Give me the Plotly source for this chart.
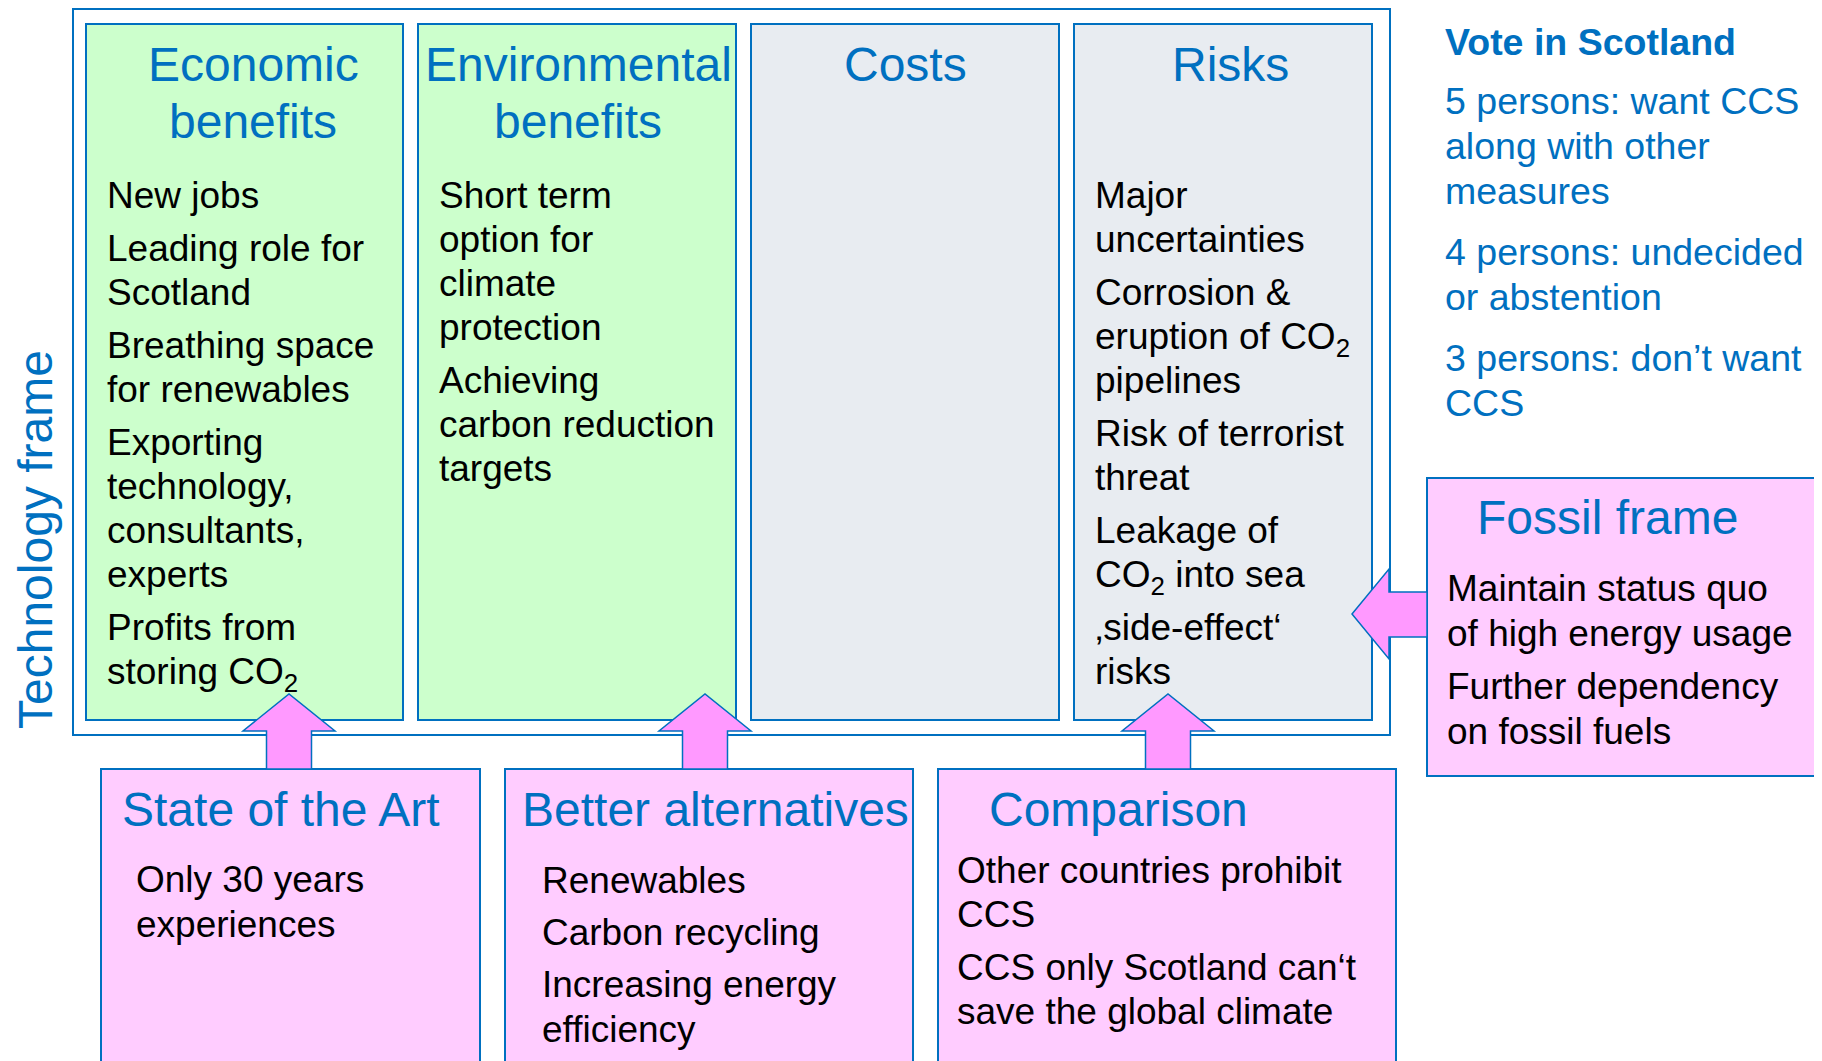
import plotly.graph_objects as go

# canvas is the browser window, data coords are page pixels (y grows downward)
W, H = 1822, 1061
OFF = 8  # default body margin of the html page
BLUE = '#0070C0'
GREEN = '#CCFFCC'
GREY = '#E8ECF1'
PINK = '#FFCCFF'
ARROW = '#FF99FF'
FONT = 'Liberation Sans, Arial, sans-serif'

# ---- text content ----
column_titles = [['Economic', 'benefits'], ['Environmental', 'benefits'], ['Costs'], ['Risks']]
column_items = [
    [['New jobs'], ['Leading role for', 'Scotland'], ['Breathing space', 'for renewables'],
     ['Exporting', 'technology,', 'consultants,', 'experts'], ['Profits from', 'storing CO<sub>2</sub>']],
    [['Short term', 'option for', 'climate', 'protection'], ['Achieving', 'carbon reduction', 'targets']],
    [],
    [['Major', 'uncertainties'], ['Corrosion &', 'eruption of CO<sub>2</sub>', 'pipelines'],
     ['Risk of terrorist', 'threat'], ['Leakage of', 'CO<sub>2</sub> into sea'], ['\u201aside-effect\u2018', 'risks']],
]
column_fills = [GREEN, GREEN, GREY, GREY]

bottom_titles = ['State of the Art', 'Better alternatives', 'Comparison']
bottom_items = [
    [['Only 30 years', 'experiences']],
    [['Renewables'], ['Carbon recycling'], ['Increasing energy', 'efficiency']],
    [['Other countries prohibit', 'CCS'], ['CCS only Scotland can\u2018t', 'save the global climate']],
]

vote_title = 'Vote in Scotland'
vote_items = [['5 persons: want CCS', 'along with other', 'measures'],
              ['4 persons: undecided', 'or abstention'],
              ['3 persons: don\u2019t want', 'CCS']]

fossil_title = 'Fossil frame'
fossil_items = [['Maintain status quo', 'of high energy usage'],
                ['Further dependency', 'on fossil fuels']]

frame_label = 'Technology frame'

# ---- layout geometry ----
col_x = [(86, 403), (418, 736), (751, 1059), (1074, 1372)]
col_y = (24, 720)
col_title_x = [253, 578, 905, 1230]
col_text_x = [107, 439, None, 1095]
bottom_x = [(101, 480), (505, 913), (938, 1396)]
bottom_title_x = [122, 522, 989]
bottom_text = [(136, 879, 45, 8), (542, 880, 45, 7), (957, 870, 44, 9)]
up_arrow_x = [289, 705, 1168]

TITLE = 48
BODY = 37

shapes = []
annotations = []


def rect(x0, y0, x1, y1, fill, lw=2):
    shapes.append(dict(type='rect', xref='x', yref='y', x0=x0, y0=y0, x1=x1, y1=y1,
                       fillcolor=fill, line=dict(color=BLUE, width=lw)))


def text(x, y, s, size, color='#000000', anchor='left', bold=False):
    # y is the centre of the capitals; anchor annotations by their top
    if bold:
        s = '<b>' + s + '</b>'
    annotations.append(dict(x=x, y=y - 0.547 * size, text=s, showarrow=False,
                            xref='x', yref='y', xanchor=anchor, yanchor='top',
                            borderpad=0, borderwidth=0,
                            font=dict(family=FONT, size=size, color=color)))


def paragraphs(paras, x, y0, step, gap, size, color='#000000'):
    y = y0
    for p in paras:
        for line in p:
            text(x, y, line, size, color)
            y += step
        y += gap


# outer technology frame
rect(73, 9, 1390, 735, 'white')

for i in range(4):
    rect(col_x[i][0], col_y[0], col_x[i][1], col_y[1], column_fills[i])
    for j, line in enumerate(column_titles[i]):
        text(col_title_x[i], 64 + 57 * j, line, TITLE, BLUE, anchor='center')
    if column_items[i]:
        paragraphs(column_items[i], col_text_x[i], 195, 44, 9, BODY)

# bottom boxes
for i in range(3):
    rect(bottom_x[i][0], 769, bottom_x[i][1], 1090, PINK)
    text(bottom_title_x[i], 809, bottom_titles[i], TITLE, BLUE)
    bx, by, bs, bg = bottom_text[i]
    paragraphs(bottom_items[i], bx, by, bs, bg, BODY)

# fossil frame box
rect(1427, 478, 1850, 776, PINK)
text(1607, 517, fossil_title, TITLE, BLUE, anchor='center')
paragraphs(fossil_items, 1447, 588, 45, 8, BODY)

# up arrows from bottom boxes into the frame
for cx in up_arrow_x:
    path = ('M {a},769 L {a},731 L {b},731 L {c},694 L {d},731 L {e},731 L {e},769 Z'
            .format(a=cx - 22.5, b=cx - 46, c=cx, d=cx + 46, e=cx + 22.5))
    shapes.append(dict(type='path', xref='x', yref='y', path=path,
                       fillcolor=ARROW, line=dict(color=BLUE, width=1.5)))

# left arrow from fossil frame into risks
shapes.append(dict(type='path', xref='x', yref='y',
                   path='M 1427,592 L 1389,592 L 1389,569 L 1352,614 L 1389,659 L 1389,637 L 1427,637 Z',
                   fillcolor=ARROW, line=dict(color=BLUE, width=1.5)))

# vote panel
text(1445, 42, vote_title, 37.5, BLUE, bold=True)
paragraphs(vote_items, 1445, 101, 45, 16, 37.5, BLUE)

# rotated frame label
annotations.append(dict(x=35, y=540, text=frame_label, showarrow=False, xref='x', yref='y',
                        xanchor='center', yanchor='middle', textangle=-90,
                        borderpad=0, borderwidth=0,
                        font=dict(family=FONT, size=TITLE, color=BLUE)))

fig = go.Figure()
fig.update_layout(
    width=W, height=H,
    margin=dict(l=0, r=0, t=0, b=0),
    paper_bgcolor='white', plot_bgcolor='white',
    xaxis=dict(range=[OFF, W + OFF], visible=False, fixedrange=True),
    yaxis=dict(range=[H + OFF, OFF], visible=False, fixedrange=True),
    shapes=shapes, annotations=annotations, showlegend=False,
)

fig.write_html('out.html')
